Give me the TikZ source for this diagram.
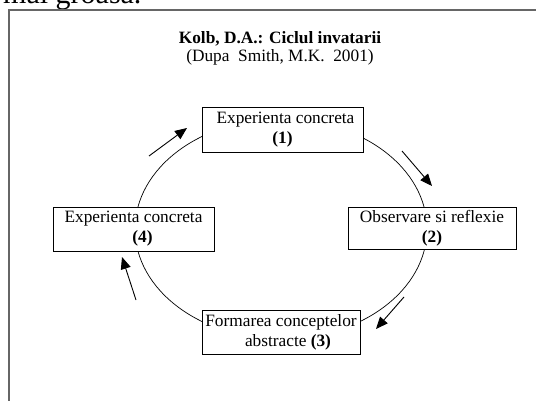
\documentclass[tikz,border=0pt]{standalone}
\usepackage{fontspec}
\setmainfont{Liberation Serif}
\usetikzlibrary{arrows.meta}
\tikzset{
  stage/.style={draw, fill=white, line width=.9pt, align=center, inner sep=0pt,
    font=\fontsize{17.3}{20}\selectfont},
  cue/.style={line width=.9pt, -{Triangle[length=12pt,width=10pt]}}
}
\begin{document}
\begin{tikzpicture}[x=1pt,y=-1pt]
        \useasboundingbox (0,0) rectangle (536,401);
        \clip (0,0) rectangle (536,401);
        \fill[white] (0,0) rectangle (536,401);
        % rest of the page text, cut off at the top
        \node[anchor=base west, inner sep=0pt, font=\fontsize{30}{30}\selectfont] (pagetext) at (3,4) {mai groasă.};
        \draw[gray!80!black, line width=1.5pt] (9,10) rectangle (600,450);
        \node[align=center, font=\fontsize{17.3}{18}\selectfont] (title) at (280,48)
          {\textbf{Kolb, D.A.: Ciclul invatarii}\\(Dupa\ \ Smith, M.K.\ \ 2001)};
        \draw[line width=.7pt] (281,229) ellipse (146 and 110);
        \node[stage, minimum width=161pt, minimum height=45pt] (s1) at (282.5,129.5) {\hspace*{6pt}Experienta concreta\\\textbf{(1)}};
        \node[stage, minimum width=168pt, minimum height=42pt] (s2) at (432,228) {Observare si reflexie\\\textbf{(2)}};
        \node[stage, minimum width=158pt, minimum height=44pt] (s3) at (281,332) {Formarea conceptelor\\\hspace*{14pt}abstracte \textbf{(3)}};
        \node[stage, minimum width=161pt, minimum height=44pt] (s4) at (133.5,229) {Experienta concreta\\\hspace*{18pt}\textbf{(4)}};
        \coordinate (a1) at (149,156); \coordinate (b1) at (187,128);
        \coordinate (a2) at (402,151); \coordinate (b2) at (432,186);
        \coordinate (a3) at (404,297); \coordinate (b3) at (376,329);
        \coordinate (a4) at (136,300); \coordinate (b4) at (122,257);
        \draw[cue] (a1) -- (b1);
        \draw[cue] (a2) -- (b2);
        \draw[cue] (a3) -- (b3);
        \draw[cue] (a4) -- (b4);
\end{tikzpicture}
\end{document}
